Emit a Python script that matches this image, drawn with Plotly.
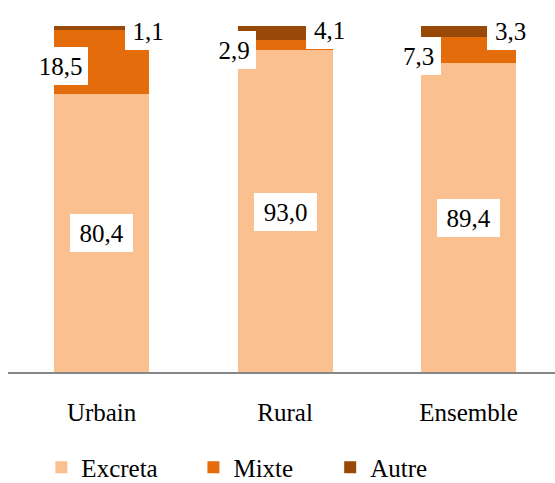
import plotly.graph_objects as go

# Data
categories = ["Urbain", "Rural", "Ensemble"]
excreta = [80.4, 93.0, 89.4]
mixte = [18.5, 2.9, 7.3]
autre = [1.1, 4.1, 3.3]
series_names = ["Excreta", "Mixte", "Autre"]

FONT = "Liberation Serif, Times New Roman, serif"
colors = ["#FAC090", "#E46C0A", "#984807"]
legend_ids = ["legend", "legend2", "legend3"]

# Label placement (pixel shifts from the segment centre, box sizes)
label_style = {
    "Excreta": dict(xshift=[0, 0, 0], yshift=[0, -1, -1], width=[63, 63, 63]),
    "Mixte": dict(xshift=[-41, -51.5, -50], yshift=[-3.7, -4.8, -5.5], width=[55, 44, 45]),
    "Autre": dict(xshift=[46.5, 44, 42], yshift=[-2.6, 2.6, 1.2], width=[46, 47, 47]),
}


def fr(v):
    return f"{v:.1f}".replace(".", ",")


fig = go.Figure()
all_series = [excreta, mixte, autre]
for name, vals, col, lg in zip(series_names, all_series, colors, legend_ids):
    fig.add_trace(go.Bar(
        x=categories, y=vals, name=name, legend=lg,
        marker=dict(color=col, line=dict(width=0)),
        width=0.518,
    ))

annotations = []
for i, cat in enumerate(categories):
    base = 0.0
    for name, vals in zip(series_names, all_series):
        v = vals[i]
        st = label_style[name]
        annotations.append(dict(
            x=cat, y=base + v / 2, xref="x", yref="y",
            text=fr(v), showarrow=False,
            font=dict(family=FONT, size=25, color="black"),
            bgcolor="white", borderpad=0, borderwidth=0,
            width=st["width"][i], height=38,
            xshift=st["xshift"][i], yshift=st["yshift"][i],
        ))
        base += v

legend_common = dict(
    orientation="h", yanchor="middle", xanchor="left", y=-0.276,
    font=dict(family=FONT, size=25, color="black"),
    bgcolor="rgba(0,0,0,0)", borderwidth=0,
)

fig.update_layout(
    width=555, height=483,
    margin=dict(l=8, r=0, t=26, b=111, autoexpand=False),
    paper_bgcolor="white", plot_bgcolor="white",
    barmode="stack",
    annotations=annotations,
    showlegend=True,
    legend=dict(x=0.061, **legend_common),
    legend2=dict(x=0.339, **legend_common),
    legend3=dict(x=0.589, **legend_common),
    xaxis=dict(
        range=[-0.51, 2.471], showgrid=False, zeroline=False,
        showline=True, linecolor="#868686", linewidth=1.5,
        ticks="outside", ticklen=0, tickcolor="rgba(0,0,0,0)",
        ticklabelstandoff=17,
        tickfont=dict(family=FONT, size=25, color="black"),
    ),
    yaxis=dict(range=[0, 100], visible=False, showgrid=False, zeroline=False),
)

fig.write_html("out.html")
